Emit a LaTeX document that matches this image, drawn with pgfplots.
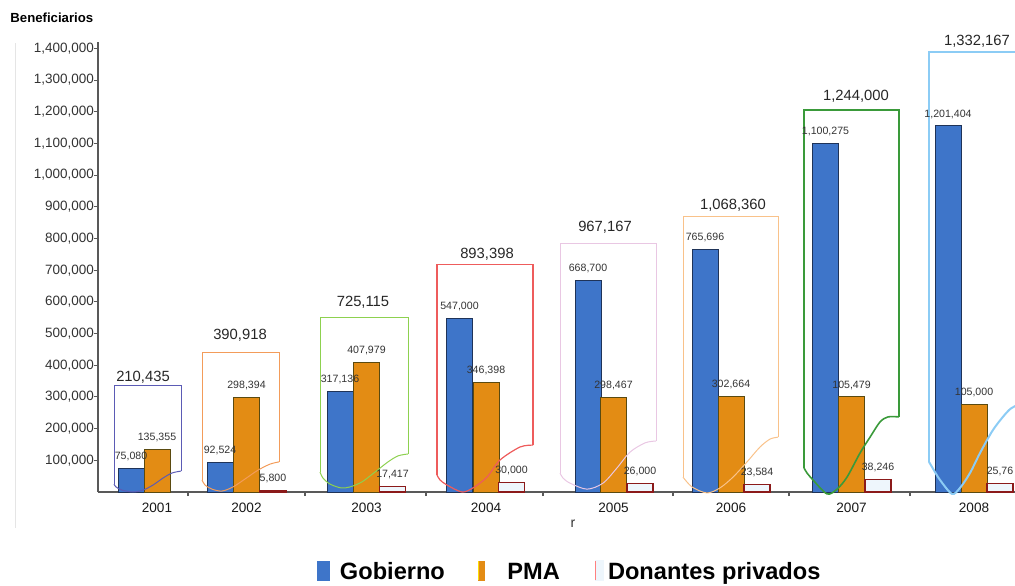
\documentclass[border=0pt]{standalone}
\usepackage{pgfplots}
\pgfplotsset{compat=1.18}
\usepackage{fontspec}
\setmainfont{Liberation Sans}
\definecolor{gob}{HTML}{3E75C9}
\definecolor{gobd}{HTML}{1F3358}
\definecolor{pma}{HTML}{E38C14}
\definecolor{pmad}{HTML}{5A4A10}
\definecolor{don}{HTML}{EEF6FC}
\definecolor{dond}{HTML}{8B1A1A}
\definecolor{c1}{HTML}{5B5BB5}
\definecolor{c2}{HTML}{F39C5A}
\definecolor{c3}{HTML}{8DD14F}
\definecolor{c4}{HTML}{EE5C5C}
\definecolor{c5}{HTML}{E9C7E3}
\definecolor{c6}{HTML}{F9C28A}
\definecolor{c7}{HTML}{3A9A3A}
\definecolor{c8}{HTML}{8CCCF5}
\begin{document}
\begin{tikzpicture}
\useasboundingbox (-49pt,-46.5pt) rectangle (458.5pt,246pt);
\draw[black!10, line width=0.5pt] (-41pt,224.5pt) -- (-41pt,-18pt);
\begin{axis}[
  at={(0pt,0pt)}, anchor=south west,
  scale only axis, width=458.5pt, height=225pt,
  xmin=0.98, xmax=10.15, ymin=0, ymax=1420000,
  clip=false,
  axis x line*=bottom, axis y line*=left,
  axis line style={black!65, line width=0.6pt},
  ybar, bar shift=0pt, bar width=0.26,
  xtick={1.57,2.465,3.665,4.86,6.135,7.31,8.515,9.74},
  xticklabels={2001,2002,2003,2004,2005,2006,2007,2008},
  major x tick style={draw=none},
  minor xtick={1.88,3.05,4.26,5.43,6.73,7.89,9.10},
  minor x tick style={black!65, line width=0.6pt},
  minor tick length=2pt,
  tick align=outside,
  ytick={100000,200000,300000,400000,500000,600000,700000,800000,900000,1000000,1100000,1200000,1300000,1400000},
  major tick length=2pt,
  y tick style={black!65, line width=0.5pt},
  scaled y ticks=false,
  /pgf/number format/fixed, /pgf/number format/precision=0, /pgf/number format/1000 sep={,},
  /pgf/number format/assume math mode=true,
  yticklabel style={font=\fontsize{6.75}{8}\selectfont, text=black!80, xshift=3.5pt},
  xticklabel style={font=\fontsize{6.8}{8}\selectfont, text=black!90},
  legend style={at={(0.5158,0)}, anchor=center, yshift=-40pt, draw=none, fill=none,
    legend columns=3, font=\fontsize{11.8}{13}\selectfont\bfseries,
    /tikz/column 2/.style={column sep=14.5pt},
    /tikz/column 4/.style={column sep=15.5pt}},
  legend cell align=left,
  every node near coord/.append style={font=\fontsize{5.3}{6}\selectfont, text=black!80, inner sep=0pt, yshift=3.5pt},
]
\addplot[fill=gob, draw=gobd, line width=0.5pt, nodes near coords, point meta=explicit symbolic,
  legend image code/.code={\fill[gob] (0pt,-4pt) rectangle (6pt,5.5pt); \path[draw=none,fill=none] (0pt,0pt) -- (9pt,0pt);}]
  coordinates {(1.31,75080)[75,080] (2.20,92524)[92,524] (3.40,317136)[317,136] (4.595,547000)[547,000]
  (5.88,668700)[668,700] (7.05,765696)[765,696] (8.255,1100275)[1,100,275] (9.48,1155000)[1,201,404]};
\addlegendentry{Gobierno\strut}
\addplot[fill=pma, draw=pmad, line width=0.5pt, nodes near coords, point meta=explicit symbolic,
  legend image code/.code={\fill[pma] (0pt,-4pt) rectangle (3pt,5.5pt); \draw[yellow!80!orange, line width=0.4pt] (0.2pt,-4pt)--(0.2pt,5.5pt); \path[draw=none,fill=none] (0pt,0pt) -- (12.5pt,0pt);}]
  coordinates {(1.57,135355)[135,355] (2.465,298394)[298,394] (3.665,407979)[407,979] (4.86,346398)[346,398]
  (6.135,298467)[298,467] (7.31,302664)[302,664] (8.515,300000)[105,479] (9.74,277000)[105,000]};
\addlegendentry{PMA\strut}
\addplot[fill=don, draw=dond, line width=0.6pt, nodes near coords, point meta=explicit symbolic,
  legend image code/.code={\fill[don] (0pt,-4pt) rectangle (4pt,5.5pt); \draw[red!50, line width=0.5pt] (0.25pt,-4pt) -- (0.25pt,5.5pt);}]
  coordinates {(2.73,5800)[5,800] (3.925,17417)[17,417] (5.115,30000)[30,000] (6.40,26000)[26,000]
  (7.57,23584)[23,584] (8.78,38246)[38,246] (10.00,25760)[25,76]};
\addlegendentry{Donantes privados\strut}
% outlines 2001
\addplot[c1, line width=0.5pt, forget plot, sharp plot, no markers] coordinates {(1.14,25000) (1.14,337000) (1.81,337000) (1.81,66000)};
\addplot[c1, line width=0.5pt, forget plot, smooth, no markers] coordinates {(1.81,66000) (1.72,60000) (1.63,44000) (1.53,22000) (1.43,6000) (1.33,0) (1.22,6000) (1.16,16000) (1.14,25000)};
% 2002
\addplot[c2, line width=0.5pt, forget plot, sharp plot, no markers] coordinates {(2.02,38000) (2.02,441000) (2.79,441000) (2.79,95000)};
\addplot[c2, line width=0.5pt, forget plot, smooth, no markers] coordinates {(2.79,95000) (2.70,88000) (2.58,69000) (2.45,41000) (2.33,16000) (2.22,3000) (2.12,9000) (2.05,22000) (2.02,38000)};
% 2003
\addplot[c3, line width=0.5pt, forget plot, sharp plot, no markers] coordinates {(3.20,63000) (3.20,552000) (4.08,552000) (4.08,120000)};
\addplot[c3, line width=0.5pt, forget plot, smooth, no markers] coordinates {(4.08,120000) (3.98,114000) (3.88,95000) (3.75,63000) (3.62,32000) (3.50,16000) (3.41,13000) (3.30,25000) (3.23,44000) (3.20,63000)};
% 2004
\addplot[c4, line width=0.6pt, forget plot, sharp plot, no markers] coordinates {(4.37,54000) (4.37,719000) (5.33,719000) (5.33,148000)};
\addplot[c4, line width=0.6pt, forget plot, smooth, no markers] coordinates {(5.33,148000) (5.20,142000) (5.00,101000) (4.87,47000) (4.73,13000) (4.62,0) (4.47,22000) (4.40,38000) (4.37,54000)};
% 2005
\addplot[c5, line width=0.5pt, forget plot, sharp plot, no markers] coordinates {(5.60,60000) (5.60,785000) (6.56,785000) (6.56,161000)};
\addplot[c5, line width=0.5pt, forget plot, smooth, no markers] coordinates {(6.56,161000) (6.45,155000) (6.30,126000) (6.17,76000) (6.03,28000) (5.87,9000) (5.70,28000) (5.63,44000) (5.60,60000)};
% 2006
\addplot[c6, line width=0.5pt, forget plot, sharp plot, no markers] coordinates {(6.83,47000) (6.83,870000) (7.78,870000) (7.78,173000)};
\addplot[c6, line width=0.5pt, forget plot, smooth, no markers] coordinates {(7.78,173000) (7.70,167000) (7.60,142000) (7.47,95000) (7.33,47000) (7.20,13000) (7.07,-3000) (6.92,16000) (6.83,47000)};
% 2007
\addplot[c7, line width=0.8pt, forget plot, sharp plot, no markers] coordinates {(8.04,76000) (8.04,1205000) (8.99,1205000) (8.99,237000)};
\addplot[c7, line width=0.8pt, forget plot, smooth, no markers] coordinates {(8.99,237000) (8.88,237000) (8.80,221000) (8.70,173000) (8.60,123000) (8.47,47000) (8.37,9000) (8.27,-6000) (8.13,38000) (8.07,60000) (8.04,76000)};
% 2008
\addplot[c8, line width=1pt, forget plot, sharp plot, no markers] coordinates {(9.29,95000) (9.29,1388000) (10.30,1388000) (10.30,284000)};
\addplot[c8, line width=1pt, forget plot, smooth, no markers] coordinates {(10.30,284000) (10.15,271000) (10.07,252000) (9.93,196000) (9.80,123000) (9.70,60000) (9.60,13000) (9.52,-6000) (9.40,38000) (9.32,79000) (9.29,95000)};
% totals
\begin{scope}[every node/.style={font=\fontsize{7.4}{9}\selectfont, text=black!85}]
\node at (axis cs:1.43,363000) {210,435};
\node at (axis cs:2.40,495000) {390,918};
\node at (axis cs:3.63,599000) {725,115};
\node at (axis cs:4.87,751000) {893,398};
\node at (axis cs:6.05,836000) {967,167};
\node at (axis cs:7.33,905000) {1,068,360};
\node at (axis cs:8.56,1249000) {1,244,000};
\node at (axis cs:9.77,1422000) {1,332,167};
\end{scope}
\end{axis}
\node[anchor=west, inner sep=0pt, font=\bfseries\fontsize{6.6}{8}\selectfont] at (-44pt,237pt) {Beneficiarios};
\node[font=\fontsize{7}{8}\selectfont, text=black!80] at (237.5pt,-16pt) {r};
\end{tikzpicture}
\end{document}
